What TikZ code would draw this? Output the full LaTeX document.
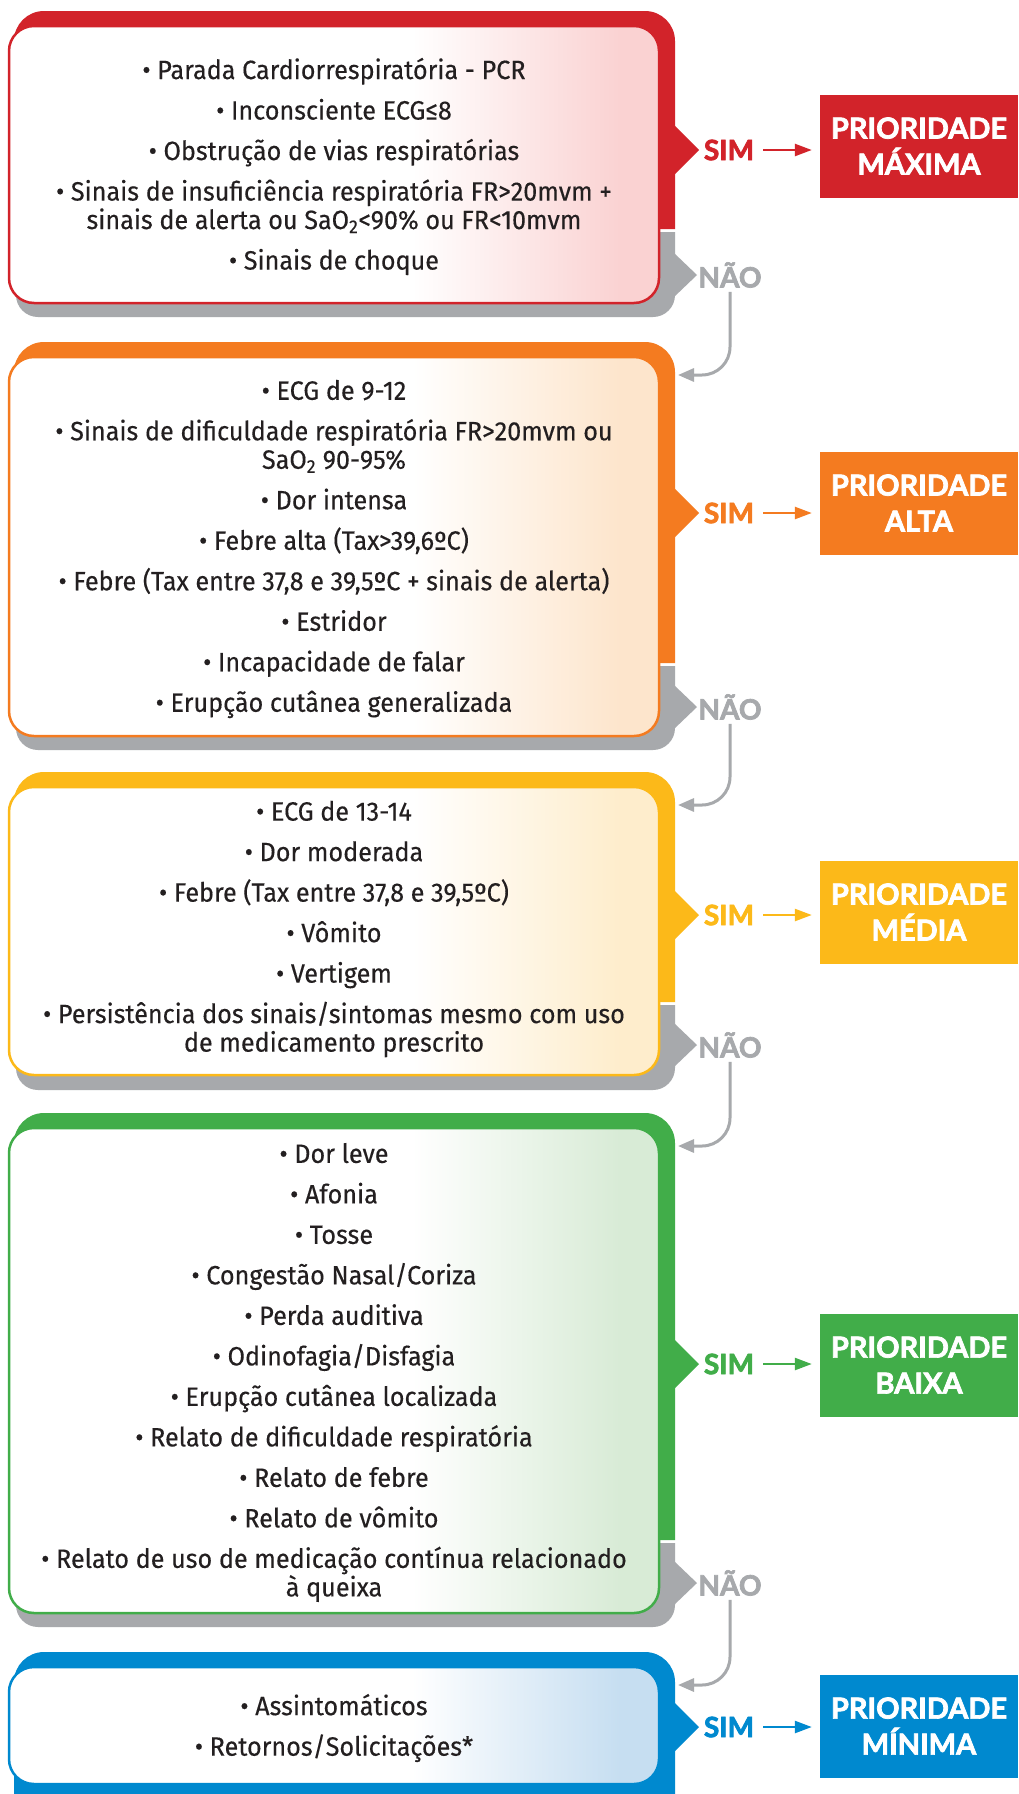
\documentclass[tikz,border=0pt]{standalone}
\usepackage{fontspec}
\setmainfont{Fira Sans}[FakeStretch=0.95, FakeBold=0.3]
\newfontfamily\rotulo{Lato}[BoldFeatures={FakeBold=2.5}]
\usetikzlibrary{arrows.meta,positioning}

\definecolor{texto}{RGB}{35,31,32}
\definecolor{cinza}{RGB}{167,169,172}
\definecolor{verm}{RGB}{210,35,42}
\definecolor{laranja}{RGB}{244,123,32}
\definecolor{amarelo}{RGB}{252,185,25}
\definecolor{verde}{RGB}{65,173,73}
\definecolor{azul}{RGB}{0,137,207}
\definecolor{vermclaro}{RGB}{250,210,210}
\definecolor{laranjaclaro}{RGB}{253,229,204}
\definecolor{amareloclaro}{RGB}{254,237,204}
\definecolor{verdeclaro}{RGB}{216,235,214}
\definecolor{azulclaro}{RGB}{198,222,241}

% branco ate 2/3 da caixa, depois a cor clara
\newcommand\fundo[2]{\pgfdeclarehorizontalshading{fundo#1}{100bp}{color(0bp)=(white); color(56bp)=(white); color(72bp)=(#2); color(100bp)=(#2)}}
\fundo{verm}{vermclaro}
\fundo{laranja}{laranjaclaro}
\fundo{amarelo}{amareloclaro}
\fundo{verde}{verdeclaro}
\fundo{azul}{azulclaro}

\tikzset{
  itens/.style={align=center, text=texto, font=\fontsize{26.5}{28.5}\selectfont, inner sep=0pt},
  sim/.style={text=#1, font=\rotulo\bfseries\fontsize{28}{28}\selectfont, inner sep=0pt},
  nao/.style={text=cinza, font=\rotulo\bfseries\fontsize{28}{28}\selectfont, inner sep=0pt},
  prio/.style={fill=#1, text=white, align=center, font=\rotulo\bfseries\fontsize{29}{36}\selectfont,
    minimum width=198pt, minimum height=103pt, inner sep=0pt},
  simseta/.style={#1, line width=2.5pt, -{Triangle[length=17pt,width=12pt]}, shorten <=9pt, shorten >=8pt},
  naoseta/.style={cinza, line width=3pt, rounded corners=28pt, -{Triangle[length=16pt,width=13pt]}, shorten <=4pt}
}

\begin{document}
\begin{tikzpicture}[x=1pt,y=-1pt]
  \fill[white,use as bounding box] (0,0) rectangle (1018,1794);

  % blocos com fundo colorido e sombra cinza
  \foreach \cor/\yt/\yf/\yb/\ys/\yg/\ysim/\ynao in {
      verm/11/26/303/229/317/150/275,
      laranja/342/357/736/663/750/513/707,
      amarelo/772/787/1075/1002/1090/915/1045,
      verde/1113/1128/1613/1540/1627/1364/1583}
  {
    \fill[\cor] (14,\ys) [rounded corners=30pt] -- (14,\yt) -- (675,\yt) [sharp corners] -- (675,\ys) -- cycle;
    \fill[\cor] (674,\ysim-25) -- (699,\ysim) -- (674,\ysim+25) -- cycle;
    \fill[cinza] (675,\ys+3) [rounded corners=22pt] -- (675,\yg) -- (16,\yg) [sharp corners] -- (16,\ys+3) -- cycle;
    \fill[cinza] (674,\ynao-22) -- (697,\ynao) -- (674,\ynao+22) -- cycle;
    \shadedraw[draw=\cor, line width=2.5pt, rounded corners=25pt, shading=fundo\cor] (9,\yf) rectangle (659,\yb);
  }
  % ultimo bloco, sem sombra
  \fill[azul] (14,1810) [rounded corners=30pt] -- (14,1652) -- (675,1652) [sharp corners] -- (675,1810) -- cycle;
  \fill[azul] (674,1702) -- (699,1727) -- (674,1752) -- cycle;
  \shadedraw[draw=azul, line width=2.5pt, rounded corners=25pt, shading=fundoazul] (9,1667) rectangle (659,1784);

  % criterios
  \node[itens] (itens1) at (334,166.5) {%
    • Parada Cardiorrespiratória - PCR\\[12pt]
    • Inconsciente ECG≤8\\[12pt]
    • Obstrução de vias respiratórias\\[12pt]
    • Sinais de insuficiência respiratória FR>20mvm +\\
    sinais de alerta ou SaO\textsubscript{2}<90\% ou FR<10mvm\\[12pt]
    • Sinais de choque};
  \node[itens] (itens2) at (334,549) {%
    • ECG de 9-12\\[12pt]
    • Sinais de dificuldade respiratória FR>20mvm ou\\
    SaO\textsubscript{2} 90-95\%\\[12pt]
    • Dor intensa\\[12pt]
    • Febre alta (Tax>39,6ºC)\\[12pt]
    • Febre (Tax entre 37,8 e 39,5ºC + sinais de alerta)\\[12pt]
    • Estridor\\[12pt]
    • Incapacidade de falar\\[12pt]
    • Erupção cutânea generalizada};
  \node[itens] (itens3) at (334,929) {%
    • ECG de 13-14\\[12pt]
    • Dor moderada\\[12pt]
    • Febre (Tax entre 37,8 e 39,5ºC)\\[12pt]
    • Vômito\\[12pt]
    • Vertigem\\[12pt]
    • Persistência dos sinais/sintomas mesmo com uso\\
    de medicamento prescrito};
  \node[itens] (itens4) at (334,1372.5) {%
    • Dor leve\\[12pt]
    • Afonia\\[12pt]
    • Tosse\\[12pt]
    • Congestão Nasal/Coriza\\[12pt]
    • Perda auditiva\\[12pt]
    • Odinofagia/Disfagia\\[12pt]
    • Erupção cutânea localizada\\[12pt]
    • Relato de dificuldade respiratória\\[12pt]
    • Relato de febre\\[12pt]
    • Relato de vômito\\[12pt]
    • Relato de uso de medicação contínua relacionado\\
    à queixa};
  \node[itens] (itens5) at (334,1728) {%
    • Assintomáticos\\[12pt]
    • Retornos/Solicitações*};

  % SIM -> prioridade
  \node[sim=verm] (sim1) at (729,150) {SIM};
  \node[prio=verm] (prio1) at (919,146) {PRIORIDADE\\MÁXIMA};
  \draw[simseta=verm] (sim1) -- (sim1 -| prio1.west);
  \node[sim=laranja] (sim2) at (729,513) {SIM};
  \node[prio=laranja] (prio2) at (919,503) {PRIORIDADE\\ALTA};
  \draw[simseta=laranja] (sim2) -- (sim2 -| prio2.west);
  \node[sim=amarelo] (sim3) at (729,915) {SIM};
  \node[prio=amarelo] (prio3) at (919,912) {PRIORIDADE\\MÉDIA};
  \draw[simseta=amarelo] (sim3) -- (sim3 -| prio3.west);
  \node[sim=verde] (sim4) at (729,1364) {SIM};
  \node[prio=verde] (prio4) at (919,1365) {PRIORIDADE\\BAIXA};
  \draw[simseta=verde] (sim4) -- (sim4 -| prio4.west);
  \node[sim=azul] (sim5) at (729,1727) {SIM};
  \node[prio=azul] (prio5) at (919,1726) {PRIORIDADE\\MÍNIMA};
  \draw[simseta=azul] (sim5) -- (sim5 -| prio5.west);

  % NÃO -> proximo bloco
  \node[nao] (nao1) at (730,275) {NÃO};
  \node[nao] (nao2) at (730,707) {NÃO};
  \node[nao] (nao3) at (730,1045) {NÃO};
  \node[nao] (nao4) at (730,1583) {NÃO};
  \coordinate (ent2) at (678,375);
  \coordinate (ent3) at (678,805);
  \coordinate (ent4) at (678,1146);
  \coordinate (ent5) at (678,1685);
  \draw[naoseta] (nao1) |- (ent2);
  \draw[naoseta] (nao2) |- (ent3);
  \draw[naoseta] (nao3) |- (ent4);
  \draw[naoseta] (nao4) |- (ent5);
\end{tikzpicture}
\end{document}
